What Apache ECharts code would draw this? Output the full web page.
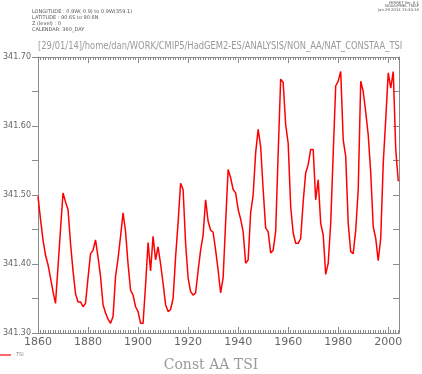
<!DOCTYPE html>
<html><head><meta charset="utf-8">
<script src="https://cdn.jsdelivr.net/npm/echarts@6/dist/echarts.min.js"></script>
<style>html,body{margin:0;padding:0;background:#fff}#c{width:422px;height:374px}</style>
</head><body><div id="c"></div>
<script>
const years = [];
for (let y = 1860; y <= 2004; y++) years.push(y);
const tsi = [
341.498,341.465,341.435,341.413,341.399,341.380,341.360,341.343,341.396,341.450,
341.503,341.490,341.479,341.430,341.390,341.357,341.345,341.345,341.338,341.343,
341.380,341.415,341.420,341.435,341.410,341.382,341.341,341.329,341.320,341.314,
341.324,341.382,341.408,341.440,341.474,341.447,341.400,341.362,341.355,341.338,
341.331,341.314,341.314,341.370,341.431,341.390,341.440,341.406,341.425,341.400,
341.372,341.341,341.331,341.334,341.350,341.410,341.460,341.517,341.508,341.430,
341.380,341.360,341.355,341.358,341.390,341.420,341.442,341.493,341.462,341.449,
341.446,341.420,341.391,341.358,341.380,341.460,341.537,341.525,341.508,341.503,
341.479,341.465,341.447,341.401,341.406,341.474,341.500,341.561,341.595,341.570,
341.508,341.452,341.447,341.416,341.420,341.447,341.560,341.668,341.663,341.602,
341.575,341.483,341.445,341.430,341.430,341.437,341.490,341.532,341.544,341.566,
341.566,341.493,341.522,341.459,341.442,341.385,341.401,341.459,341.560,341.658,
341.665,341.679,341.580,341.556,341.459,341.418,341.415,341.449,341.508,341.665,
341.650,341.620,341.587,341.532,341.454,341.437,341.405,341.437,341.546,341.610,
341.677,341.655,341.679,341.566,341.520
];
const xTicks = [1860,1880,1900,1920,1940,1960,1980,2000];
const yTicks = [341.30,341.40,341.50,341.60,341.70];
const headerLines = ['LONGITUDE : 0.9W(-0.9) to 0.9W(359.1)','LATITUDE : 90.6S to 90.6N','Z (level) : 0','CALENDAR: 360_DAY'];
const ferretLines = ['FERRET Ver. 6.1','NOAA/PMEL TMAP','Jan 29 2014 13:30:18'];
const pathTitle = '[29/01/14]/home/dan/WORK/CMIP5/HadGEM2-ES/ANALYSIS/NON_AA/NAT_CONSTAA_TSI';
const plotTitle = 'Const AA TSI';
const seriesName = 'TSI';

const chart = echarts.init(document.getElementById('c'), null, {renderer:'canvas'});
const axCol = '#8a8a8a', txtCol = '#666';
const graphics = [];
headerLines.forEach((t,i)=>graphics.push({type:'text',x:32,y:9+i*6.2,style:{text:t,fontSize:5,fill:'#555',fontFamily:'DejaVu Sans'}}));
ferretLines.forEach((t,i)=>graphics.push({type:'text',x:419,y:1+i*3.5,style:{text:t,fontSize:3.8,fill:'#555',fontFamily:'DejaVu Sans',align:'right'}}));
graphics.push({type:'text',x:38,y:41,scaleX:0.795,style:{text:pathTitle,fontSize:10.5,fill:'#999',fontFamily:'DejaVu Sans'}});
graphics.push({type:'text',left:'center',top:358,style:{text:plotTitle,fontSize:14,fill:'#999',fontFamily:'DejaVu Serif'}});
graphics.push({type:'line',shape:{x1:0,y1:355,x2:11,y2:355},style:{stroke:'#ff0000',lineWidth:1.2}});
graphics.push({type:'text',x:16,y:352.5,style:{text:seriesName,fontSize:5,fill:'#888',fontFamily:'DejaVu Sans'}});

const xBase = {type:'value',min:1860,max:2004.3,interval:20,splitLine:{show:false},
  axisLine:{show:true,lineStyle:{color:axCol,width:1}},
  minorTick:{show:true,splitNumber:20,length:3,lineStyle:{color:axCol}},
  axisTick:{show:true,inside:true,length:6,lineStyle:{color:axCol}}};
const yBase = {type:'value',min:341.30,max:341.70,interval:0.05,splitLine:{show:false},scale:true,
  axisLine:{show:true,lineStyle:{color:axCol,width:1}},
  axisTick:{show:true,length:6,lineStyle:{color:axCol}}};

chart.setOption({
  animation:false,
  backgroundColor:'#fff',
  grid:{left:33,top:57,right:23,bottom:41,containLabel:false},
  graphic:graphics,
  xAxis:[
    Object.assign({},xBase,{position:'bottom',axisLabel:{show:true,color:txtCol,fontSize:11,fontFamily:'DejaVu Sans',margin:4,
      formatter:v=>xTicks.includes(Math.round(v))?String(Math.round(v)):''}}),
    Object.assign({},xBase,{position:'top',axisLabel:{show:false}})
  ],
  yAxis:[
    Object.assign({},yBase,{position:'left',axisTick:{show:true,inside:false,length:6,lineStyle:{color:axCol}},
      axisLabel:{show:true,color:txtCol,fontSize:8,fontFamily:'DejaVu Sans',margin:7,
      formatter:v=>{const r=Math.round(v*100)/100;return yTicks.some(t=>Math.abs(t-r)<1e-6)?r.toFixed(2):'';}}}),
    Object.assign({},yBase,{position:'right',axisTick:{show:true,inside:true,length:6,lineStyle:{color:axCol}},axisLabel:{show:false}})
  ],
  series:[{type:'line',name:seriesName,data:years.map((y,i)=>[y,tsi[i]]),showSymbol:false,
    lineStyle:{color:'#ff0000',width:1.5},itemStyle:{color:'#ff0000'},xAxisIndex:0,yAxisIndex:0}]
});
</script></body></html>
